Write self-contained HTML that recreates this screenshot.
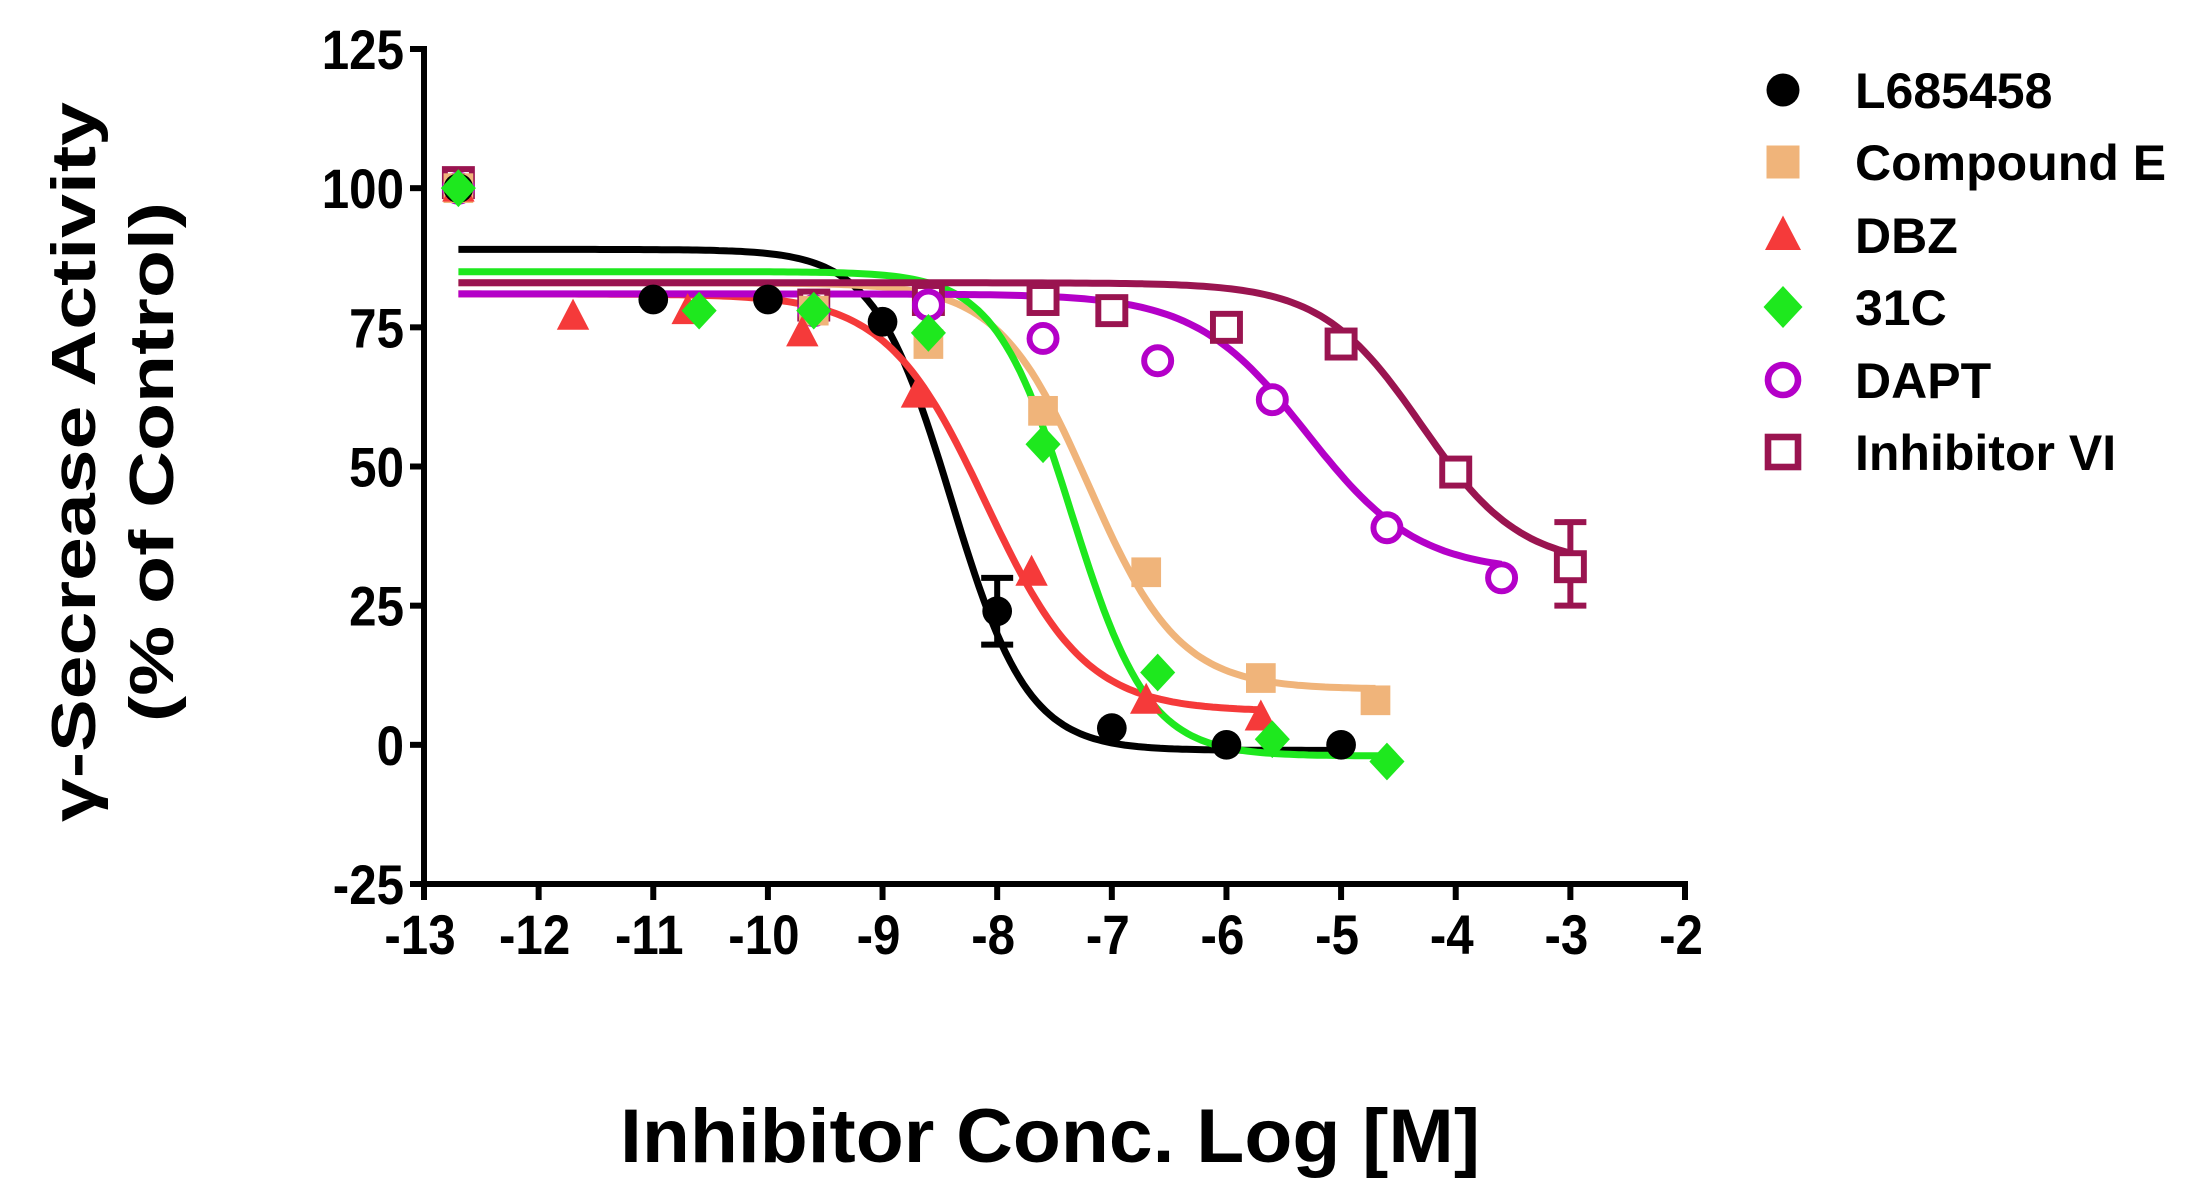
<!DOCTYPE html>
<html><head><meta charset="utf-8"><style>
html,body{margin:0;padding:0;background:#fff;}
svg{display:block;font-family:"Liberation Sans",sans-serif;font-weight:bold;}
</style></head><body>
<svg id="chart" width="2196" height="1193" viewBox="0 0 2196 1193">
<g id="axes"></g>
<g id="curves"></g>
<g id="points"></g>
<g id="legend"></g>
<text x="1050" y="1162" font-size="76" text-anchor="middle" textLength="860" lengthAdjust="spacingAndGlyphs">Inhibitor Conc. Log [M]</text>
<g transform="translate(95,462) rotate(-90)">
<text x="0" y="0" font-size="62" text-anchor="middle" textLength="720" lengthAdjust="spacingAndGlyphs">γ-Secrease Activity</text>
<text x="0" y="78" font-size="62" text-anchor="middle" textLength="520" lengthAdjust="spacingAndGlyphs">(% of Control)</text>
</g>
</svg>
<script>
const seriesNames = ["L685458","Compound E","DBZ","31C","DAPT","Inhibitor VI"];
const seriesColors = ["#000000","#f0b47a","#f53a3a","#1ee81e","#b400c8","#9a1450"];
const seriesShapes = ["circle","square","triangle","diamond","ocircle","osquare"];
const xTicks = [-13,-12,-11,-10,-9,-8,-7,-6,-5,-4,-3,-2];
const yTicks = [-25,0,25,50,75,100,125];
const xL685458 = [-12.7,-11,-10,-9,-8,-7,-6,-5];
const yL685458 = [100,80,80,76,24,3,0,0];
const xCompE = [-12.7,-9.6,-8.6,-7.6,-6.7,-5.7,-4.7];
const yCompE = [100,78,72,60,31,12,8];
const xDBZ = [-12.7,-11.7,-10.7,-9.7,-8.7,-7.7,-6.7,-5.7];
const yDBZ = [100,77,78,74,63,31,8,5];
const x31C = [-12.7,-10.6,-9.6,-8.6,-7.6,-6.6,-5.6,-4.6];
const y31C = [100,78,78,74,54,13,1,-3];
const xDAPT = [-12.7,-9.6,-8.6,-7.6,-6.6,-5.6,-4.6,-3.6];
const yDAPT = [100,78,79,73,69,62,39,30];
const xInhVI = [-12.7,-9.6,-8.6,-7.6,-7,-6,-5,-4,-3];
const yInhVI = [101,79,80,80,78,75,72,49,32];
const fitTop = [89,83,81,85,81,83];
const fitBottom = [-1,10,6,-2,31,32];
const fitIC50 = [-8.4,-7.2,-8.1,-7.35,-5.3,-4.3];
const fitHill = [1.3,1.1,1.0,1.3,0.9,1.0];
const errX = [-8,-3];
const errLo = [18,25];
const errHi = [30,40];
const errSeries = [0,5];

const NS="http://www.w3.org/2000/svg";
const X0=424,X1=1685,Y0=884,Y1=49;
function sx(v){return X0+(v+13)/11*(X1-X0);}
function sy(v){return Y0-(v+25)/150*(Y0-Y1);}
function mk(t,a,p){const e=document.createElementNS(NS,t);for(const k in a)e.setAttribute(k,a[k]);p.appendChild(e);return e;}
const axes=document.getElementById('axes');
let e=mk('line',{x1:X0,y1:Y1-3,x2:X0,y2:Y0+3,stroke:'#000','stroke-width':6},axes);


e=mk('line',{x1:X0-3,y1:Y0,x2:X1+3,y2:Y0,stroke:'#000','stroke-width':6},axes);


yTicks.forEach(v=>{
 const y=sy(v);
 mk('line',{x1:X0-14,y1:y,x2:X0,y2:y,stroke:'#000','stroke-width':6},axes);
 const t=mk('text',{x:X0-20,y:y+20,'font-size':56,'text-anchor':'end',transform:`translate(${X0-20} 0) scale(0.88 1) translate(${-(X0-20)} 0)`},axes);
 t.textContent=String(v);
 
 
});
xTicks.forEach(v=>{
 const x=sx(v);
 mk('line',{x1:x,y1:Y0,x2:x,y2:Y0+16,stroke:'#000','stroke-width':6},axes);
 const t=mk('text',{x:x-4,y:Y0+70,'font-size':56,'text-anchor':'middle',transform:`translate(${x-4} 0) scale(0.88 1) translate(${-(x-4)} 0)`},axes);
 t.textContent=String(v);
 
 
});
const xs=[xL685458,xCompE,xDBZ,x31C,xDAPT,xInhVI];
const ys=[yL685458,yCompE,yDBZ,y31C,yDAPT,yInhVI];
const curves=document.getElementById('curves');
const order=[0,1,2,3,5,4];
order.forEach(i=>{
 const a=xs[i][0],b=xs[i][xs[i].length-1];let d='';
 for(let k=0;k<=200;k++){const x=a+(b-a)*k/200;
  const y=fitBottom[i]+(fitTop[i]-fitBottom[i])/(1+Math.pow(10,(x-fitIC50[i])*fitHill[i]));
  d+=(k?'L':'M')+sx(x).toFixed(1)+' '+sy(y).toFixed(1);}
 const p=mk('path',{d:d,fill:'none',stroke:seriesColors[i],'stroke-width':7},curves);
 
 
});
function marker(shape,cx,cy,c,g,s){
 let m;
 if(shape==='circle')m=mk('circle',{cx:cx,cy:cy,r:s*0.55,fill:c},g);
 else if(shape==='square')m=mk('rect',{x:cx-s*0.55,y:cy-s*0.55,width:s*1.1,height:s*1.1,fill:c},g);
 else if(shape==='triangle')m=mk('polygon',{points:`${cx},${cy-s*0.65} ${cx+s*0.6},${cy+s*0.5} ${cx-s*0.6},${cy+s*0.5}`,fill:c},g);
 else if(shape==='diamond')m=mk('polygon',{points:`${cx},${cy-s*0.7} ${cx+s*0.65},${cy} ${cx},${cy+s*0.7} ${cx-s*0.65},${cy}`,fill:c},g);
 else if(shape==='ocircle')m=mk('circle',{cx:cx,cy:cy,r:s*0.5,fill:'#fff',stroke:c,'stroke-width':s*0.22},g);
 else m=mk('rect',{x:cx-s*0.5,y:cy-s*0.5,width:s,height:s,fill:'#fff',stroke:c,'stroke-width':s*0.22},g);
 return m;
}
const pts=document.getElementById('points');
errSeries.forEach((si,k)=>{
 const x=sx(errX[k]);
 mk('path',{d:`M${x} ${sy(errLo[k])}V${sy(errHi[k])}M${x-16} ${sy(errLo[k])}h32M${x-16} ${sy(errHi[k])}h32`,stroke:seriesColors[si],'stroke-width':6,fill:'none'},pts);
});
[5,4,1,2,0,3].forEach(i=>{
 xs[i].forEach((x,k)=>{
  const m=marker(seriesShapes[i],sx(x),sy(ys[i][k]),seriesColors[i],pts,27);
  
  
 });
});
const lg=document.getElementById('legend');
const ly=[90,162,235,307,380,452];
seriesNames.forEach((n,i)=>{
 const m=marker(seriesShapes[i],1783,ly[i],seriesColors[i],lg,30);
 
 
 const t=mk('text',{x:1855,y:ly[i]+18,'font-size':50},lg);
 t.textContent=n;
 
 
});
</script>
</body></html>
